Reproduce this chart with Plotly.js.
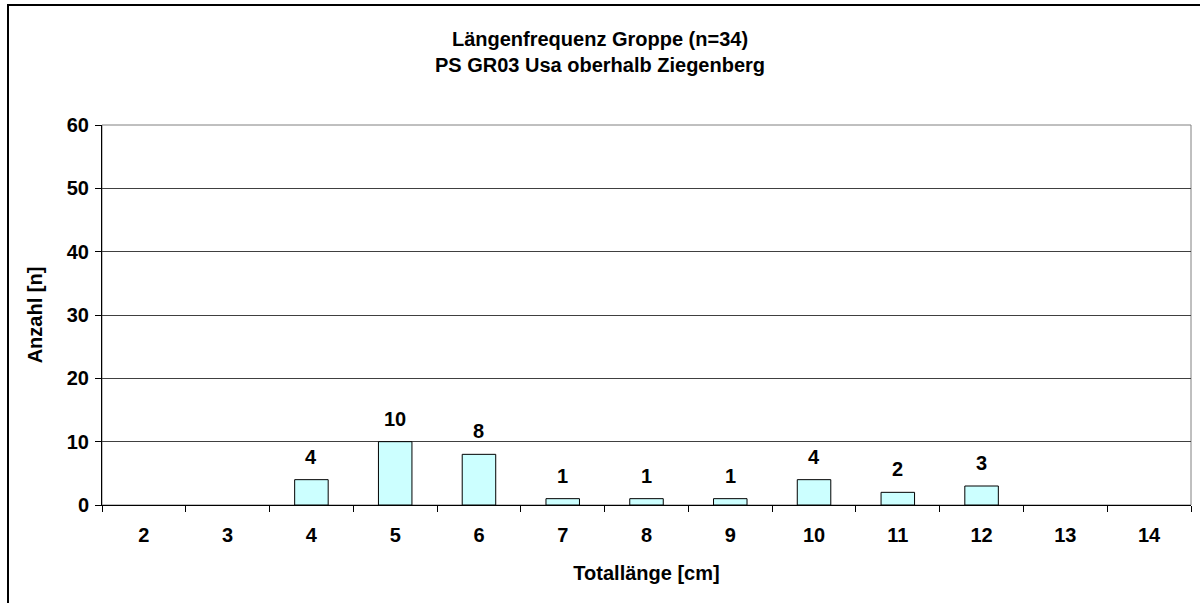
<!DOCTYPE html>
<html>
<head>
<meta charset="utf-8">
<script src="https://cdn.plot.ly/plotly-3.0.1.min.js"></script>
<style>
  html, body { margin: 0; padding: 0; background: #fff; }
  #chart { width: 1200px; height: 603px; }
</style>
</head>
<body>
<div id="chart"></div>
<script>
const categories = ['2','3','4','5','6','7','8','9','10','11','12','13','14'];
const counts = [0,0,4,10,8,1,1,1,4,2,3,0,0];
const titleLines = ['Längenfrequenz Groppe (n=34)', 'PS GR03 Usa oberhalb Ziegenberg'];
const xTitle = 'Totallänge [cm]';
const yTitle = 'Anzahl [n]';
const yTicks = [0,10,20,30,40,50,60];

const FONT = 'Liberation Sans, Arial, Helvetica, sans-serif';
const bold = (size) => ({family: FONT, size: size, color: '#000', weight: 'bold'});

const trace = {
  type: 'bar',
  x: categories,
  y: counts,
  marker: {
    color: '#CCFFFF',
    line: {color: '#000', width: counts.map(v => v > 0 ? 1 : 0)}
  },
  hoverinfo: 'skip'
};

const labelAnnotations = [];
categories.forEach((c, i) => {
  if (counts[i] > 0) {
    labelAnnotations.push({
      x: i, y: counts[i], xref: 'x', yref: 'y',
      text: String(counts[i]),
      showarrow: false, yanchor: 'bottom', yshift: 10,
      font: bold(20)
    });
  }
});

const layout = {
  width: 1200, height: 603,
  margin: {l: 102, r: 9, t: 125, b: 98},
  paper_bgcolor: '#fff', plot_bgcolor: '#fff',
  showlegend: false,
  bargap: 0.6,
  font: bold(20),
  title: {
    text: titleLines.join('<br>'),
    font: bold(20),
    x: 0.5, xanchor: 'center',
    y: 1 - 46/603, yanchor: 'top', yref: 'container'
  },
  xaxis: {
    type: 'category',
    categoryorder: 'array', categoryarray: categories,
    tickson: 'boundaries',
    ticks: 'outside', ticklen: 6, tickcolor: '#000', tickwidth: 1,
    ticklabelstandoff: 12,
    showline: true, linecolor: '#000', linewidth: 1,
    showgrid: false, zeroline: false,
    tickfont: bold(20),
    title: {text: xTitle, font: bold(20), standoff: 20},
    automargin: false
  },
  yaxis: {
    range: [0, 60],
    tickvals: yTicks,
    ticks: 'outside', ticklen: 6, tickcolor: '#000', tickwidth: 1,
    ticklabelstandoff: 2,
    showline: true, linecolor: '#000', linewidth: 1,
    showgrid: true, gridcolor: '#404040', gridwidth: 1,
    zeroline: false,
    tickfont: bold(20),
    title: {text: yTitle, font: bold(20), standoff: 18},
    automargin: false
  },
  shapes: [
    {type: 'rect', xref: 'paper', yref: 'paper', x0: 0, x1: 1, y0: 0, y1: 1,
     line: {color: '#808080', width: 1}, layer: 'below'},
    {type: 'rect', xref: 'paper', yref: 'paper',
     x0: (8 - 102) / 1089, x1: 1.5, y0: -1, y1: (505 - 5) / 380,
     line: {color: '#000', width: 2}, fillcolor: 'rgba(0,0,0,0)', layer: 'above'}
  ],
  annotations: labelAnnotations
};

Plotly.newPlot('chart', [trace], layout, {staticPlot: true, displayModeBar: false});
</script>
</body>
</html>
